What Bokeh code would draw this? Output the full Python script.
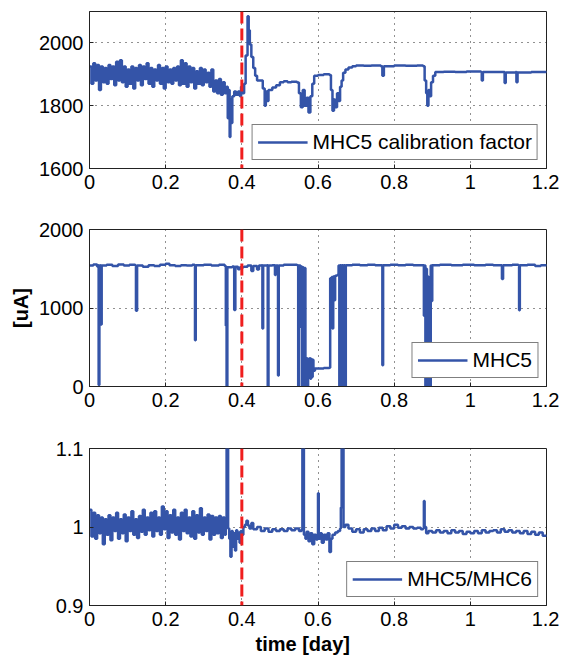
from bokeh.plotting import figure
from bokeh.layouts import column
from bokeh.models import Range1d, FixedTicker, Span, Title
from bokeh.embed import file_html
from bokeh.resources import INLINE

# ---------------- data ----------------
x_ticks = [0, 0.2, 0.4, 0.6, 0.8, 1.0, 1.2]
x_tick_labels = ["0", "0.2", "0.4", "0.6", "0.8", "1", "1.2"]
event_day = 0.4

cal_yticks = [1600, 1800, 2000]
cal_ylabels = ["1600", "1800", "2000"]
cur_yticks = [0, 1000, 2000]
cur_ylabels = ["0", "1000", "2000"]
ratio_yticks = [0.9, 1.0, 1.1]
ratio_ylabels = ["0.9", "1", "1.1"]

cal_t = [0.000, 0.005, 0.010, 0.015, 0.020, 0.025, 0.030, 0.035, 0.040, 0.045,
         0.050, 0.055, 0.060, 0.065, 0.070, 0.075, 0.080, 0.085, 0.090, 0.095,
         0.100, 0.105, 0.110, 0.115, 0.120, 0.125, 0.130, 0.135, 0.140, 0.145,
         0.150, 0.155, 0.160, 0.165, 0.170, 0.175, 0.180, 0.185, 0.190, 0.195,
         0.200, 0.205, 0.210, 0.215, 0.220, 0.225, 0.230, 0.235, 0.240, 0.245,
         0.250, 0.255, 0.260, 0.265, 0.270, 0.275, 0.280, 0.285, 0.290, 0.295,
         0.300, 0.305, 0.310, 0.315, 0.320, 0.325, 0.330, 0.335, 0.340, 0.345,
         0.350, 0.355, 0.360, 0.363, 0.366, 0.368, 0.370, 0.372, 0.375, 0.380,
         0.385, 0.390, 0.395, 0.398, 0.402, 0.406, 0.410, 0.415, 0.418, 0.421,
         0.425, 0.430, 0.435, 0.440, 0.450, 0.455, 0.460, 0.463, 0.466, 0.470,
         0.480, 0.490, 0.500, 0.510, 0.520, 0.530, 0.545, 0.550, 0.555, 0.560,
         0.565, 0.570, 0.575, 0.580, 0.585, 0.590, 0.600, 0.615, 0.630, 0.634,
         0.638, 0.642, 0.645, 0.650, 0.654, 0.658, 0.662, 0.666, 0.672, 0.680,
         0.690, 0.700, 0.720, 0.740, 0.765, 0.769, 0.773, 0.800, 0.830, 0.860,
         0.876, 0.880, 0.884, 0.887, 0.890, 0.893, 0.897, 0.902, 0.908, 0.930,
         0.960, 0.990, 1.028, 1.030, 1.033, 1.088, 1.090, 1.093, 1.119, 1.121,
         1.124, 1.160, 1.200]
cal_factor = [1925, 1870, 1935, 1880, 1930, 1850, 1925, 1875, 1920, 1870,
              1930, 1885, 1925, 1865, 1940, 1880, 1945, 1875, 1925, 1860,
              1915, 1870, 1925, 1855, 1920, 1880, 1930, 1865, 1925, 1885,
              1935, 1870, 1920, 1860, 1915, 1880, 1930, 1870, 1920, 1855,
              1925, 1875, 1915, 1870, 1920, 1880, 1925, 1865, 1945, 1870,
              1935, 1860, 1925, 1875, 1920, 1855, 1910, 1870, 1920, 1865,
              1915, 1875, 1905, 1860, 1915, 1845, 1880, 1840, 1885, 1835,
              1875, 1840, 1860, 1760, 1850, 1700, 1820, 1745, 1830, 1845,
              1835, 1845, 1830, 1860, 1840, 1870, 1960, 2085, 2040, 1995,
              1955, 1920, 1895, 1880, 1880, 1855, 1800, 1845, 1815, 1850,
              1858, 1865, 1875, 1878, 1875, 1876, 1874, 1840, 1795, 1850,
              1800, 1825, 1778, 1830, 1870, 1895, 1898, 1900, 1898, 1850,
              1784, 1820, 1795, 1840, 1815, 1860, 1880, 1905, 1915, 1922,
              1926, 1928, 1927, 1928, 1926, 1895, 1926, 1928, 1927, 1928,
              1926, 1880, 1840, 1800, 1850, 1830, 1875, 1895, 1907, 1908,
              1907, 1909, 1907, 1880, 1907, 1907, 1872, 1906, 1907, 1875,
              1906, 1907, 1905]

cur_t = [0.000, 0.010, 0.020, 0.023, 0.024, 0.026, 0.029, 0.030, 0.032, 0.045,
         0.060, 0.075, 0.090, 0.105, 0.120, 0.122, 0.125, 0.140, 0.155, 0.170,
         0.185, 0.200, 0.210, 0.225, 0.240, 0.255, 0.270, 0.276, 0.277, 0.279,
         0.300, 0.320, 0.340, 0.355, 0.358, 0.360, 0.362, 0.375, 0.380, 0.383,
         0.390, 0.395, 0.405, 0.415, 0.425, 0.430, 0.440, 0.445, 0.452, 0.454,
         0.456, 0.466, 0.468, 0.470, 0.480, 0.487, 0.489, 0.494, 0.495, 0.497,
         0.510, 0.530, 0.545, 0.548, 0.550, 0.552, 0.554, 0.556, 0.558, 0.560,
         0.562, 0.565, 0.567, 0.570, 0.572, 0.574, 0.576, 0.578, 0.580, 0.582,
         0.584, 0.586, 0.588, 0.592, 0.600, 0.615, 0.630, 0.632, 0.636, 0.638,
         0.640, 0.643, 0.645, 0.650, 0.654, 0.656, 0.658, 0.661, 0.663, 0.666,
         0.668, 0.671, 0.673, 0.690, 0.710, 0.730, 0.750, 0.767, 0.769, 0.771,
         0.790, 0.810, 0.830, 0.850, 0.875, 0.878, 0.880, 0.882, 0.884, 0.886,
         0.888, 0.890, 0.892, 0.894, 0.896, 0.898, 0.900, 0.920, 0.950, 0.980,
         1.010, 1.040, 1.060, 1.080, 1.083, 1.086, 1.110, 1.126, 1.128, 1.130,
         1.150, 1.170, 1.185, 1.200]
cur_ua = [1540, 1555, 1530, 1545, 20, 1540, 1545, 790, 1540, 1550,
          1535, 1555, 1540, 1550, 1545, 965, 1540, 1525, 1545, 1535,
          1550, 1565, 1545, 1535, 1545, 1540, 1550, 1545, 590, 1545,
          1550, 1540, 1550, 1535, 775, 5, 1520, 1530, 975, 1525,
          1495, 1520, 1525, 1540, 1470, 1535, 1490, 1540, 1545, 740,
          1540, 1545, 0, 1540, 1545, 1420, 1540, 1540, 140, 1540,
          1550, 1550, 1545, 10, 1540, 1540, 760, 1530, 0, 1520,
          0, 1510, 0, 360, 0, 350, 110, 360, 100, 350,
          120, 340, 200, 230, 230, 235, 240, 1380, 1395, 740,
          1400, 1100, 1410, 1420, 1540, 0, 1545, 0, 1545, 0,
          1545, 0, 1545, 1550, 1545, 1550, 1545, 1545, 270, 1545,
          1550, 1545, 1550, 1545, 1545, 900, 1540, 0, 1500, 300,
          1400, 0, 1300, 0, 1540, 1090, 1545, 1550, 1545, 1550,
          1545, 1550, 1545, 1545, 1370, 1545, 1550, 1545, 970, 1545,
          1550, 1535, 1545, 1530]

ratio_t = [0.000, 0.005, 0.010, 0.015, 0.020, 0.025, 0.030, 0.035, 0.040, 0.045,
           0.050, 0.055, 0.060, 0.065, 0.070, 0.075, 0.080, 0.085, 0.090, 0.095,
           0.100, 0.105, 0.110, 0.115, 0.120, 0.125, 0.130, 0.135, 0.140, 0.145,
           0.150, 0.155, 0.160, 0.165, 0.170, 0.175, 0.180, 0.185, 0.190, 0.195,
           0.200, 0.205, 0.210, 0.215, 0.220, 0.225, 0.230, 0.235, 0.240, 0.245,
           0.250, 0.255, 0.260, 0.265, 0.270, 0.275, 0.280, 0.285, 0.290, 0.295,
           0.300, 0.305, 0.310, 0.315, 0.320, 0.325, 0.330, 0.335, 0.340, 0.345,
           0.350, 0.355, 0.358, 0.360, 0.362, 0.364, 0.367, 0.370, 0.373, 0.376,
           0.379, 0.382, 0.385, 0.388, 0.391, 0.394, 0.397, 0.400, 0.404, 0.408,
           0.412, 0.416, 0.420, 0.425, 0.430, 0.440, 0.450, 0.460, 0.470, 0.480,
           0.490, 0.500, 0.510, 0.520, 0.530, 0.540, 0.550, 0.557, 0.559, 0.561,
           0.563, 0.567, 0.570, 0.575, 0.580, 0.585, 0.590, 0.595, 0.599, 0.600,
           0.602, 0.606, 0.610, 0.615, 0.620, 0.625, 0.630, 0.634, 0.638, 0.645,
           0.652, 0.658, 0.660, 0.662, 0.665, 0.667, 0.672, 0.680, 0.690, 0.700,
           0.710, 0.720, 0.730, 0.740, 0.750, 0.760, 0.770, 0.780, 0.790, 0.800,
           0.810, 0.820, 0.830, 0.840, 0.850, 0.860, 0.870, 0.876, 0.878, 0.880,
           0.884, 0.890, 0.900, 0.910, 0.920, 0.930, 0.940, 0.950, 0.960, 0.970,
           0.980, 0.990, 1.000, 1.010, 1.020, 1.030, 1.040, 1.050, 1.060, 1.070,
           1.080, 1.090, 1.100, 1.110, 1.120, 1.130, 1.140, 1.150, 1.160, 1.170,
           1.180, 1.190, 1.200]
ratio = [1.022, 0.988, 1.018, 0.985, 1.015, 0.992, 1.012, 0.978, 1.010, 0.990,
         1.015, 0.983, 1.012, 0.995, 1.018, 0.985, 1.010, 0.992, 1.016, 0.982,
         1.012, 0.995, 1.020, 0.990, 1.010, 0.986, 1.014, 0.994, 1.022, 0.990,
         1.012, 0.996, 1.018, 0.988, 1.020, 0.995, 1.012, 0.990, 1.026, 0.997,
         1.020, 0.986, 1.015, 0.993, 1.022, 0.990, 1.012, 0.984, 1.018, 0.995,
         1.022, 0.992, 1.012, 0.988, 1.020, 0.985, 1.015, 0.993, 1.024, 0.990,
         1.012, 0.995, 1.016, 0.984, 1.014, 0.990, 1.012, 0.992, 1.014, 0.986,
         1.012, 0.990, 1.010, 1.150, 1.150, 0.998, 0.985, 0.962, 0.995, 0.975,
         0.992, 0.970, 0.996, 0.985, 0.993, 0.980, 0.995, 0.990, 1.000, 1.003,
         1.008, 1.002, 0.998, 1.005, 0.997, 1.000, 0.995, 0.998, 0.994, 0.997,
         0.995, 0.997, 0.995, 0.998, 0.996, 0.998, 0.995, 0.997, 1.150, 1.150,
         0.990, 0.985, 0.994, 0.982, 0.992, 0.978, 0.990, 0.984, 0.990, 1.043,
         0.985, 0.992, 0.980, 0.990, 0.984, 0.992, 0.968, 0.985, 0.990, 0.993,
         0.995, 0.998, 1.025, 1.150, 1.150, 1.000, 1.003, 0.998, 0.994, 0.997,
         0.993, 0.997, 0.995, 0.998, 0.995, 0.999, 0.996, 1.001, 0.998, 1.003,
         0.999, 1.001, 0.998, 1.000, 0.998, 0.999, 0.997, 0.998, 1.033, 1.000,
         0.992, 0.995, 0.993, 0.996, 0.993, 0.995, 0.992, 0.996, 0.993, 0.995,
         0.991, 0.994, 0.992, 0.995, 0.992, 0.996, 0.993, 0.995, 0.996, 0.993,
         0.997, 0.994, 0.996, 0.993, 0.995, 0.992, 0.995, 0.991, 0.994, 0.990,
         0.993, 0.989, 0.990]

# ---------------- style ----------------
FONT = "Liberation Sans"
BLUE = "#3454a8"
RED = "#f01e1e"
FS = "20px"
LEG_FS = "21px"


def make_panel(t, vals, yr, yticks, ylabels, legend_text, top, bottom, ylabel=None):
    p = figure(frame_width=457, frame_height=157,
               x_range=Range1d(0, 1.2), y_range=Range1d(yr[0], yr[1]),
               output_backend="svg", toolbar_location=None,
               min_border_left=89, min_border_right=13,
               min_border_top=top, min_border_bottom=bottom,
               background_fill_color="white", border_fill_color="white")
    p.step(t, vals, mode="after", line_color=BLUE, line_width=2.5,
           legend_label=legend_text)
    p.add_layout(Span(location=event_day, dimension="height", line_color=RED,
                      line_width=3, line_dash="12 5"))

    p.xaxis.ticker = FixedTicker(ticks=x_ticks)
    p.xaxis.major_label_overrides = dict(zip(x_ticks, x_tick_labels))
    p.yaxis.ticker = FixedTicker(ticks=yticks)
    p.yaxis.major_label_overrides = dict(zip(yticks, ylabels))
    for ax in (p.xaxis[0], p.yaxis[0]):
        ax.major_tick_in = 4
        ax.major_tick_out = 0
        ax.minor_tick_line_color = None
        ax.axis_line_color = "#222222"
        ax.major_tick_line_color = "#222222"
        ax.major_label_text_font = FONT
        ax.major_label_text_font_size = FS
        ax.major_label_text_color = "black"
        ax.major_label_standoff = 6
    if ylabel:
        p.yaxis.axis_label = ylabel
        p.yaxis.axis_label_text_font = FONT
        p.yaxis.axis_label_text_font_size = FS
        p.yaxis.axis_label_text_font_style = "bold"
        p.yaxis.axis_label_text_color = "black"
        p.yaxis.axis_label_standoff = 4

    for g in (p.xgrid[0], p.ygrid[0]):
        g.grid_line_color = "#222222"
        g.grid_line_dash = "1 5"
        g.grid_line_width = 1
        g.grid_line_alpha = 1
    p.outline_line_color = "#222222"
    p.outline_line_width = 1
    p.outline_line_alpha = 1

    lg = p.legend[0]
    lg.location = "bottom_right"
    lg.margin = 8
    lg.padding = 5
    lg.spacing = 0
    lg.glyph_width = 50
    lg.glyph_height = 20
    lg.label_standoff = 5
    lg.label_text_font = FONT
    lg.label_text_font_size = LEG_FS
    lg.label_text_color = "black"
    lg.border_line_color = "black"
    lg.border_line_width = 1
    lg.background_fill_alpha = 1
    return p


p1 = make_panel(cal_t, cal_factor, (1600, 2100), cal_yticks, cal_ylabels,
                "MHC5 calibration factor", 11, 42)
p2 = make_panel(cur_t, cur_ua, (0, 2000), cur_yticks, cur_ylabels,
                "MHC5", 19, 43, ylabel="[uA]")
p3 = make_panel(ratio_t, ratio, (0.9, 1.1), ratio_yticks, ratio_ylabels,
                "MHC5/MHC6", 19, 55)
p3.add_layout(Title(text="time [day]", align="left", offset=166, standoff=4,
                    text_font=FONT, text_font_size=FS, text_font_style="bold",
                    text_color="black"), "below")

layout = column(p1, p2, p3, spacing=0)
open("out.html", "w").write(file_html(layout, INLINE))
